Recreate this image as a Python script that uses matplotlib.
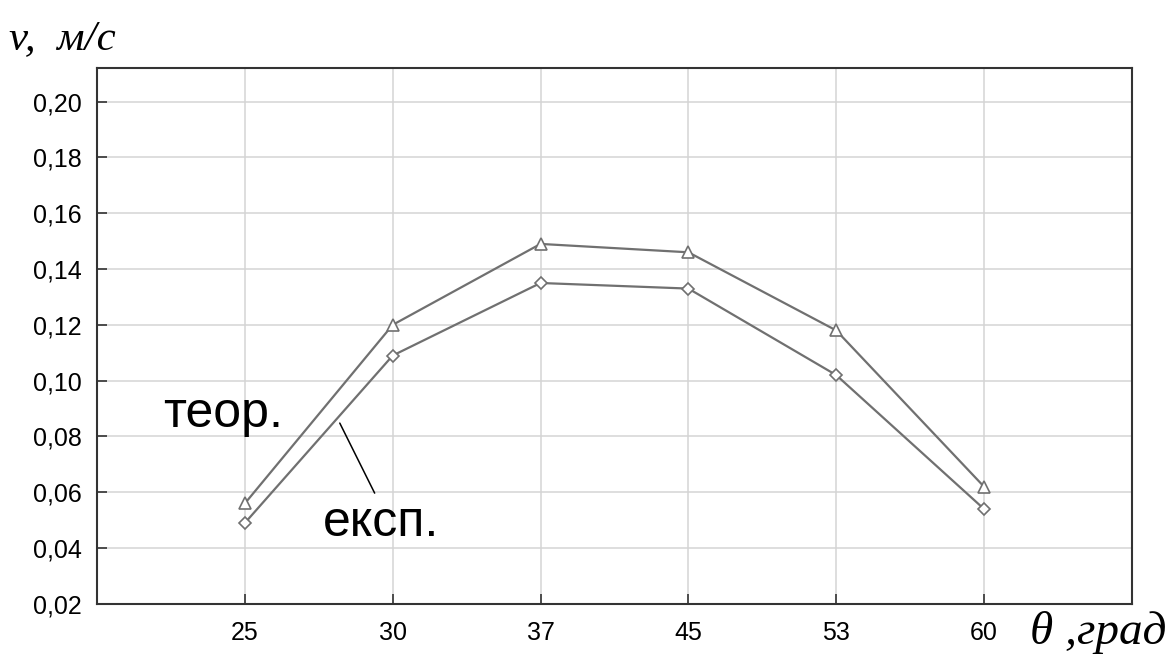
import matplotlib.pyplot as plt

# angle categories (equally spaced on the chart) and speeds, m/s
angles = ["25", "30", "37", "45", "53", "60"]
v_teor = [0.056, 0.120, 0.149, 0.146, 0.118, 0.062]
v_exp = [0.049, 0.109, 0.135, 0.133, 0.102, 0.054]

y_ticks = [0.02, 0.04, 0.06, 0.08, 0.10, 0.12, 0.14, 0.16, 0.18, 0.20]
y_labels = ["0,02", "0,04", "0,06", "0,08", "0,10", "0,12", "0,14", "0,16", "0,18", "0,20"]

plt.rcParams["font.family"] = ["Liberation Sans", "DejaVu Sans"]

fig = plt.figure(figsize=(11.76, 6.55), dpi=100)
ax = fig.add_axes([0.0825, 0.078, 0.88, 0.818])

x = list(range(1, len(angles) + 1))
line_col = "#707070"
ax.plot(x, v_teor, color=line_col, lw=1.6, marker="^", ms=8,
        mfc="white", mec=line_col, mew=1.2, zorder=3)
ax.plot(x, v_exp, color=line_col, lw=1.6, marker="D", ms=6,
        mfc="white", mec=line_col, mew=1.2, zorder=3)

ax.set_xlim(0, 7)
ax.set_ylim(0.02, 0.212)
ax.set_xticks(x)
ax.set_xticklabels(angles)
ax.set_yticks(y_ticks)
ax.set_yticklabels(y_labels)
ax.tick_params(direction="in", length=7, width=1.2, labelsize=18, color="#333333", pad=11)
ax.tick_params(axis="x", pad=12)

ax.grid(True, color="#d4d4d4", lw=1.1)
ax.set_axisbelow(True)
for s in ax.spines.values():
    s.set_color("#333333")
    s.set_linewidth(1.5)

# curve labels
ax.text(0.85, 0.088, "теор.", fontsize=36, ha="center", va="center")
ax.text(1.92, 0.049, "експ.", fontsize=36, ha="center", va="center")
ax.annotate("", xy=(1.642, 0.0848), xytext=(1.878, 0.0597),
            arrowprops=dict(arrowstyle="-", color="black", lw=1.1,
                            shrinkA=0, shrinkB=0))

# axis titles
fig.text(0.008, 0.94, "v,  м/с", fontsize=31, style="italic",
         family="Liberation Serif", ha="left", va="center")
fig.text(0.876, 0.035, "θ ,град", fontsize=34, style="italic",
         family="Liberation Serif", ha="left", va="center")

fig.savefig("out.png", dpi=100)
